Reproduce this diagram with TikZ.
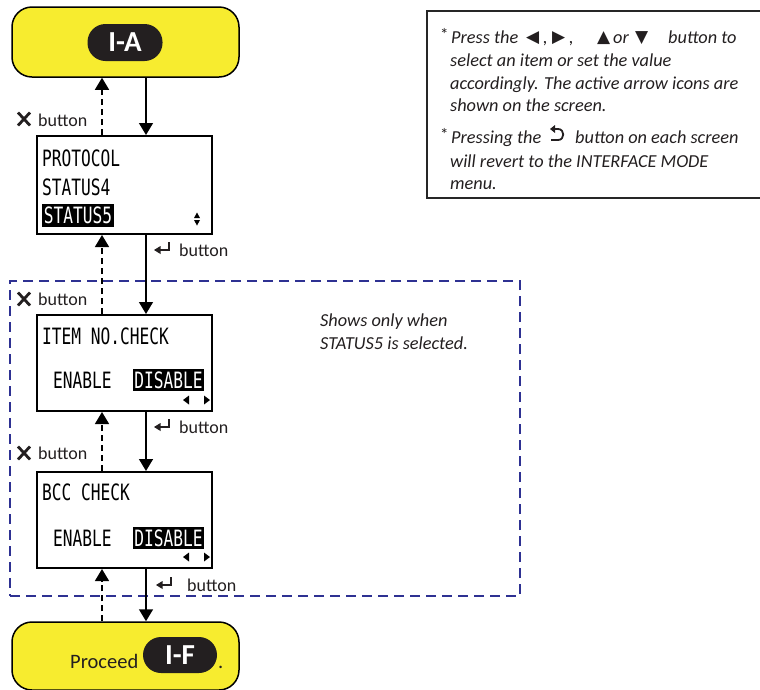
\documentclass[tikz,border=0pt]{standalone}
\usepackage{fontspec}
\setmainfont{Carlito}
\newfontfamily\lcd[FakeStretch=0.72]{DejaVu Sans Mono}
\newfontfamily\dv{DejaVu Sans}
\usetikzlibrary{arrows.meta}
\definecolor{ylw}{RGB}{247,236,47}
\definecolor{navy}{RGB}{46,49,146}
\definecolor{pillc}{RGB}{35,31,32}
\definecolor{ink}{RGB}{35,31,32}
\begin{document}
\begin{tikzpicture}[x=1pt,y=-1pt,
  yellowbox/.style={draw=black, line width=1.5pt, fill=ylw, rounded corners=20pt, inner sep=0pt, minimum width=227pt, minimum height=70pt},
  pillnode/.style={fill=pillc, rounded corners=18pt, text=white, font=\fontsize{29}{29}\selectfont\bfseries, inner sep=0pt, minimum width=75pt, minimum height=37pt},
  screen/.style={draw=black, line width=2pt, fill=white, inner sep=0pt, minimum width=175pt},
  lcdtext/.style={font=\lcd\fontsize{22.5}{22.5}\selectfont, inner sep=0pt, anchor=base west, text=black},
  hl/.style={fill=black, text=white, font=\lcd\fontsize{22.5}{22.5}\selectfont, inner sep=0pt},
  fwd/.style={line width=1.5pt, draw=black, -{Triangle[width=14pt,length=12pt]}},
  back/.style={line width=1.5pt, draw=black, dash pattern=on 6pt off 4pt, -{Triangle[width=14pt,length=12pt]}},
  lbl/.style={font=\fontsize{18}{18}\selectfont, inner sep=0pt, anchor=base west, text=ink},
  notetxt/.style={font=\fontsize{18.3}{18.3}\selectfont\itshape, inner sep=0pt, anchor=base west, text=ink},
  star/.style={font=\fontsize{17}{17}\selectfont, inner sep=0pt, anchor=base west, text=ink},
  sym/.style={font=\dv\fontsize{17}{17}\selectfont, inner sep=0pt, anchor=base west, text=ink},
  xicon/.pic={\draw[line width=2.8pt, ink] (-6,-6.5) -- (6,6.5) (-6,6.5) -- (6,-6.5);},
  reticon/.pic={\draw[line width=2.2pt, ink] (15,-8) -- (15,0) -- (4,0);\fill[ink] (0,0) -- (6.5,-4) -- (6.5,4) -- cycle;},
  backicon/.pic={\draw[line width=1.8pt, ink] (3,-11) -- (8,-11) .. controls (15,-11) and (15,0) .. (8,0) -- (1,0);\fill[ink] (0,-11) -- (5,-15) -- (5,-7) -- cycle;}
]
\useasboundingbox (0,0) rectangle (760,689);
\fill[white] (0,0) rectangle (760,689);

% region of optional screens
\node[draw=navy, line width=2pt, dash pattern=on 10pt off 6pt, minimum width=510pt, minimum height=315pt, inner sep=0pt] (region) at (265,438.5) {};

% column coordinates
\coordinate (fx) at (146,0);
\coordinate (bx) at (102,0);

% top terminal
\node[yellowbox] (IA) at (125.5,42) {};
\node[pillnode] (pillA) at (125,42.5) {I-A};

% screen 1
\node[screen, minimum height=98pt] (S1) at (124.5,185) {};
\node[lcdtext] (s1a) at (42,166) {PROTOCOL};
\node[lcdtext] (s1b) at (42,195) {STATUS4};
\node[hl, minimum width=72pt, minimum height=23pt] (s1c) at (78,215.5) {STATUS5};
\fill (194,218) -- (200,218) -- (197,212.5) -- cycle;
\fill (194,220) -- (200,220) -- (197,225.5) -- cycle;

% screen 2
\node[screen, minimum height=96pt] (S2) at (124.5,363) {};
\node[lcdtext] (s2a) at (42,344) {ITEM NO.CHECK};
\node[lcdtext] (s2b) at (53,388) {ENABLE};
\node[hl, minimum width=71pt, minimum height=22pt] (s2c) at (168.5,380) {DISABLE};
\fill (183,400) -- (189,395.5) -- (189,404.5) -- cycle;
\fill (210,400) -- (204,395.5) -- (204,404.5) -- cycle;

% screen 3
\node[screen, minimum height=96pt] (S3) at (124.5,520) {};
\node[lcdtext] (s3a) at (42,500) {BCC CHECK};
\node[lcdtext] (s3b) at (53,546) {ENABLE};
\node[hl, minimum width=71pt, minimum height=22pt] (s3c) at (168.5,538) {DISABLE};
\fill (183,557) -- (189,552.5) -- (189,561.5) -- cycle;
\fill (210,557) -- (204,552.5) -- (204,561.5) -- cycle;

% bottom terminal
\node[yellowbox, minimum height=68pt] (IF) at (125.5,656) {};
\node[lbl, font=\fontsize{20.5}{20.5}\selectfont] (proc) at (70,668) {Proceed};
\node[pillnode, minimum width=74pt, minimum height=36pt] (pillF) at (180,655) {I-F};
\node[lbl, font=\fontsize{20.5}{20.5}\selectfont] (dot) at (218,668) {.};

% connectors
\draw[fwd] (IA.south -| fx) -- (S1.north -| fx);
\draw[back] (S1.north -| bx) -- (IA.south -| bx);
\draw[fwd] (S1.south -| fx) -- (S2.north -| fx);
\draw[back] (S2.north -| bx) -- (S1.south -| bx);
\draw[fwd] (S2.south -| fx) -- (S3.north -| fx);
\draw[back] (S3.north -| bx) -- (S2.south -| bx);
\draw[fwd] (S3.south -| fx) -- (IF.north -| fx);
\draw[back] (IF.north -| bx) -- (S3.south -| bx);

% labels
\pic at (24,119) {xicon};
\node[lbl] (x1) at (38,126) {button};
\pic at (24,299) {xicon};
\node[lbl] (x2) at (38,305) {button};
\pic at (24,453) {xicon};
\node[lbl] (x3) at (38,459) {button};

\pic at (154,250) {reticon};
\node[lbl] (e1) at (179,256) {button};
\pic at (154,427) {reticon};
\node[lbl] (e2) at (179,433) {button};
\pic at (156,585) {reticon};
\node[lbl] (e3) at (187,591) {button};

% side remark
\node[notetxt] (rem1) at (320,326) {Shows only when};
\node[notetxt] (rem2) at (320,349) {STATUS5 is selected.};

% note box
\node[draw=black!85, line width=2pt, minimum width=353pt, minimum height=187pt, inner sep=0pt] (note) at (603.5,104.5) {};
\node[star] (st1) at (440,40) {*};
\node[notetxt] (n1a) at (451,43) {Press the};
\node[sym] (n1b) at (526,42) {◀};
\node[notetxt] (n1c) at (543,43) {,};
\node[sym] (n1d) at (552,42) {▶};
\node[notetxt] (n1e) at (569,43) {,};
\node[sym] (n1f) at (597,42) {▲};
\node[notetxt] (n1g) at (613,43) {or};
\node[sym] (n1h) at (635,42) {▼};
\node[notetxt] (n1i) at (668,43) {button to};
\node[notetxt] (n2) at (450,66) {select an item or set the value};
\node[notetxt] (n3) at (450,89) {accordingly. The active arrow icons are};
\node[notetxt] (n4) at (450,111) {shown on the screen.};
\node[star] (st2) at (440,140) {*};
\node[notetxt] (n5a) at (451,143) {Pressing the};
\pic at (550,140) {backicon};
\node[notetxt] (n5c) at (575,143) {button on each screen};
\node[notetxt] (n6) at (450,167) {will revert to the INTERFACE MODE};
\node[notetxt] (n7) at (450,189) {menu.};
\end{tikzpicture}
\end{document}
